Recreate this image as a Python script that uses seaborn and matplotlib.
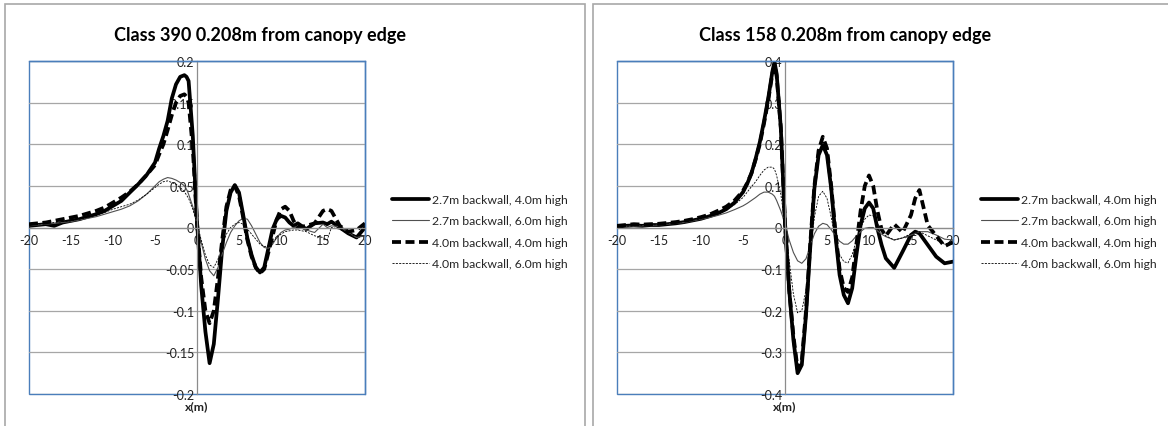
import numpy as np
import pandas as pd
import matplotlib
matplotlib.use("Agg")
import matplotlib.pyplot as plt
from matplotlib.patches import Rectangle
import seaborn as sns

sns.set_theme(style="white")
plt.rcParams['font.family'] = ['Lato', 'DejaVu Sans']

# ---------------- data ----------------
X = [-20, -19, -18, -17, -16, -15, -14, -13, -12, -11, -10, -9, -8, -7, -6, -5,
     -4.5, -4, -3.5, -3, -2.5, -2, -1.5, -1.25, -1, -0.5, 0, 0.5, 1, 1.5, 2, 2.5,
     3, 3.5, 4, 4.5, 5, 5.5, 6, 6.5, 7, 7.5, 8, 8.5, 9, 9.5, 10, 10.5, 11, 11.5,
     12, 13, 14, 15, 15.5, 16, 17, 18, 19, 20]

series_labels = ["2.7m backwall, 4.0m high", "2.7m backwall, 6.0m high",
                 "4.0m backwall, 4.0m high", "4.0m backwall, 6.0m high"]

titles = ["Class 390 0.208m from canopy edge", "Class 158 0.208m from canopy edge"]

# Class 390
c390_27_40 = [0.002, 0.003, 0.004, 0.002, 0.006, 0.008, 0.010, 0.013, 0.016, 0.020, 0.026, 0.032, 0.042, 0.052, 0.063, 0.078,
              0.095, 0.110, 0.128, 0.155, 0.172, 0.181, 0.183, 0.181, 0.176, 0.110, 0.007, -0.070, -0.125, -0.163, -0.140, -0.085,
              -0.025, 0.020, 0.042, 0.051, 0.042, 0.015, -0.013, -0.033, -0.048, -0.054, -0.048, -0.025, -0.002, 0.010, 0.014, 0.012, 0.006, 0.002,
              0.005, -0.002, 0.005, 0.006, 0.004, 0.007, 0.000, -0.007, -0.012, 0.000]
c390_27_60 = [0.002, 0.003, 0.004, 0.005, 0.006, 0.007, 0.009, 0.011, 0.013, 0.016, 0.019, 0.022, 0.026, 0.032, 0.040, 0.050,
              0.055, 0.058, 0.060, 0.059, 0.057, 0.054, 0.050, 0.046, 0.040, 0.025, 0.005, -0.018, -0.038, -0.052, -0.058, -0.048,
              -0.032, -0.018, -0.006, 0.002, 0.008, 0.011, 0.010, 0.002, -0.008, -0.018, -0.024, -0.025, -0.020, -0.012, -0.006, -0.003, -0.002, 0.000,
              0.001, -0.003, -0.006, 0.004, 0.000, 0.002, 0.001, -0.006, -0.012, -0.010]
c390_40_40 = [0.004, 0.005, 0.006, 0.008, 0.010, 0.012, 0.014, 0.017, 0.020, 0.024, 0.030, 0.036, 0.043, 0.052, 0.063, 0.075,
              0.088, 0.100, 0.117, 0.135, 0.150, 0.158, 0.160, 0.157, 0.150, 0.095, 0.005, -0.060, -0.100, -0.115, -0.100, -0.060,
              -0.015, 0.025, 0.045, 0.050, 0.038, 0.012, -0.015, -0.035, -0.048, -0.055, -0.050, -0.030, -0.010, 0.010, 0.022, 0.025, 0.020, 0.008,
              0.000, 0.002, 0.005, 0.020, 0.022, 0.020, 0.002, -0.005, -0.003, 0.005]
c390_40_60 = [0.003, 0.004, 0.005, 0.006, 0.007, 0.008, 0.010, 0.012, 0.015, 0.018, 0.022, 0.025, 0.028, 0.033, 0.040, 0.048,
              0.052, 0.055, 0.056, 0.054, 0.052, 0.048, 0.043, 0.039, 0.035, 0.022, 0.005, -0.015, -0.033, -0.045, -0.048, -0.038,
              -0.022, -0.008, 0.000, 0.004, 0.006, 0.004, -0.002, -0.008, -0.014, -0.020, -0.023, -0.022, -0.018, -0.012, -0.008, -0.005, -0.004, -0.003,
              -0.003, -0.005, -0.010, -0.012, -0.015, 0.000, -0.002, -0.008, -0.010, -0.010]

# Class 158
c158_27_40 = [0.002, 0.004, 0.005, 0.004, 0.006, 0.006, 0.008, 0.010, 0.013, 0.017, 0.021, 0.027, 0.034, 0.044, 0.060, 0.085,
              0.105, 0.130, 0.165, 0.205, 0.255, 0.310, 0.375, 0.398, 0.370, 0.240, 0.010, -0.150, -0.270, -0.350, -0.330, -0.210,
              -0.050, 0.094, 0.174, 0.198, 0.174, 0.094, -0.018, -0.114, -0.162, -0.182, -0.146, -0.066, 0.006, 0.046, 0.060, 0.046, -0.002, -0.042,
              -0.074, -0.097, -0.058, -0.018, -0.010, -0.014, -0.042, -0.070, -0.086, -0.082]
c158_27_60 = [0.002, 0.003, 0.003, 0.004, 0.005, 0.006, 0.008, 0.010, 0.012, 0.016, 0.020, 0.024, 0.029, 0.035, 0.043, 0.052,
              0.058, 0.065, 0.072, 0.080, 0.085, 0.085, 0.080, 0.075, 0.065, 0.040, 0.010, -0.030, -0.060, -0.080, -0.086, -0.075,
              -0.045, -0.015, 0.003, 0.010, 0.007, -0.005, -0.020, -0.033, -0.040, -0.040, -0.032, -0.020, -0.010, -0.002, 0.000, 0.000, -0.008, -0.016,
              -0.022, -0.030, -0.025, -0.018, -0.014, -0.010, -0.010, -0.018, -0.028, -0.030]
c158_40_40 = [0.004, 0.006, 0.008, 0.007, 0.008, 0.009, 0.011, 0.013, 0.016, 0.020, 0.025, 0.031, 0.040, 0.050, 0.065, 0.088,
              0.107, 0.130, 0.163, 0.200, 0.250, 0.305, 0.370, 0.390, 0.365, 0.240, 0.010, -0.150, -0.260, -0.340, -0.320, -0.200,
              -0.040, 0.100, 0.185, 0.218, 0.190, 0.100, -0.010, -0.100, -0.145, -0.155, -0.120, -0.040, 0.040, 0.100, 0.125, 0.100, 0.040, -0.005,
              -0.020, 0.008, -0.012, 0.030, 0.070, 0.090, 0.005, -0.020, -0.045, -0.035]
c158_40_60 = [0.002, 0.003, 0.004, 0.005, 0.006, 0.007, 0.009, 0.011, 0.014, 0.017, 0.021, 0.026, 0.033, 0.042, 0.055, 0.072,
              0.085, 0.098, 0.110, 0.125, 0.138, 0.145, 0.145, 0.140, 0.125, 0.080, 0.010, -0.080, -0.160, -0.205, -0.200, -0.150,
              -0.060, 0.025, 0.075, 0.087, 0.070, 0.025, -0.030, -0.065, -0.082, -0.085, -0.065, -0.030, 0.000, 0.020, 0.030, 0.028, 0.010, -0.008,
              -0.020, -0.030, -0.025, -0.015, -0.012, -0.010, -0.020, -0.030, -0.040, -0.035]

x_ticks = [-20, -15, -10, -5, 0, 5, 10, 15, 20]
y_ticks_390 = [-0.2, -0.15, -0.1, -0.05, 0, 0.05, 0.1, 0.15, 0.2]
y_ticks_158 = [-0.4, -0.3, -0.2, -0.1, 0, 0.1, 0.2, 0.3, 0.4]
y_labels_390 = ["-0.2", "-0.15", "-0.1", "-0.05", "0", "0.05", "0.1", "0.15", "0.2"]
y_labels_158 = ["-0.4", "-0.3", "-0.2", "-0.1", "0", "0.1", "0.2", "0.3", "0.4"]

# ---------------- styling ----------------
styles = [
    dict(color="black", lw=2.7, linestyle="-"),
    dict(color="#505050", lw=0.8, linestyle="-"),
    dict(color="black", lw=2.7, linestyle=(0, (2.4, 1.2))),
    dict(color="black", lw=0.6, linestyle=(0, (2.5, 1.5))),
]

W, H = 1168, 427
fig = plt.figure(figsize=(W / 100, H / 100), dpi=100)

# panel borders
fig.patches.append(Rectangle((5 / W, -0.1), 580 / W, 1.1 - 5 / H, transform=fig.transFigure,
                             fill=False, edgecolor="#a8a8a8", lw=1.2))
fig.patches.append(Rectangle((593 / W, -0.1), 0.6, 1.1 - 5 / H, transform=fig.transFigure,
                             fill=False, edgecolor="#a8a8a8", lw=1.2))

panels = [
    dict(left=29, title_x=260, data=[c390_27_40, c390_27_60, c390_40_40, c390_40_60],
         yticks=y_ticks_390, ylabels=y_labels_390, ylim=(-0.2, 0.2), leg_x=392),
    dict(left=617, title_x=845, data=[c158_27_40, c158_27_60, c158_40_40, c158_40_60],
         yticks=y_ticks_158, ylabels=y_labels_158, ylim=(-0.4, 0.4), leg_x=981),
]

blue = "#4a7ebb"
axis_gray = "#8c8c8c"
grid_gray = "#a6a6a6"

for p, title in zip(panels, titles):
    ax = fig.add_axes([p["left"] / W, (H - 395) / H, 336 / W, 333 / H])
    for vals, lab, st in zip(p["data"], series_labels, styles):
        sns.lineplot(x=X, y=vals, ax=ax, label=lab, color=st["color"], lw=st["lw"],
                     linestyle=st["linestyle"], estimator=None, sort=False)
    ax.set_xlim(-20, 20)
    ax.set_ylim(*p["ylim"])
    ax.set_xticks(x_ticks)
    ax.set_xticklabels([str(t) for t in x_ticks])
    ax.set_yticks(p["yticks"])
    ax.set_yticklabels(p["ylabels"])
    ax.yaxis.grid(True, color=grid_gray, lw=0.9)
    ax.xaxis.grid(False)
    ax.set_axisbelow(True)

    for s in ["top", "right"]:
        ax.spines[s].set_color(blue)
        ax.spines[s].set_linewidth(1.0)
    ax.spines["left"].set_position(("data", 0))
    ax.spines["bottom"].set_position(("data", 0))
    ax.spines["left"].set_color(axis_gray)
    ax.spines["bottom"].set_color(axis_gray)
    ax.spines["left"].set_linewidth(0.9)
    ax.spines["bottom"].set_linewidth(0.9)
    ax.patch.set_edgecolor(blue)
    ax.patch.set_linewidth(1.0)

    ax.tick_params(axis="x", direction="out", length=3, width=0.8, color=axis_gray,
                   labelsize=9, pad=1.5, labelcolor="#222222")
    ax.tick_params(axis="y", length=0, labelsize=9, pad=2, labelcolor="#222222")

    ax.set_xlabel("x(m)", fontsize=8.8, fontweight="bold", color="#222222")
    ax.xaxis.set_label_coords(0.5, -0.02)
    ax.set_ylabel("")

    fig.text(p["title_x"] / W, (H - 35) / H, title, fontsize=13, fontweight="bold",
             ha="center", va="center", color="black")

    ax.legend(loc="upper left", bbox_to_anchor=(p["leg_x"] / W, (H - 195) / H),
              bbox_transform=fig.transFigure, frameon=False, fontsize=8.8,
              handlelength=3.0, handletextpad=0.3, labelspacing=0.85, borderpad=0,
              borderaxespad=0)

fig.savefig("out.png", dpi=100)
